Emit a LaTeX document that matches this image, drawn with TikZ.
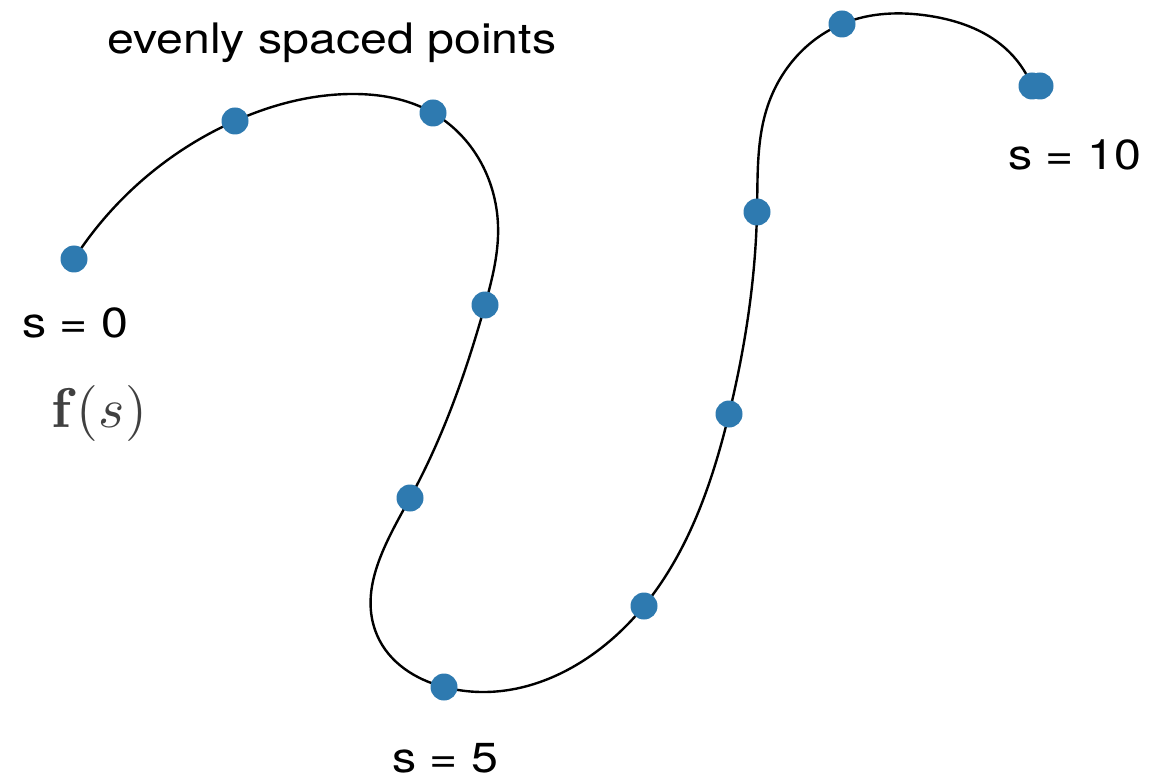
\documentclass[tikz,border=0pt]{standalone}
\usepackage[no-math]{fontspec}
\setmainfont{TeX Gyre Heros}[FakeStretch=1.15]
\usetikzlibrary{hobby}
\definecolor{dotblue}{RGB}{46,122,176}
\begin{document}
\begin{tikzpicture}[x=1pt,y=-1pt,
  dot/.style={circle,fill=dotblue,minimum size=27pt,inner sep=0pt},
  curveline/.style={line width=2.4pt,black},
  lbl/.style={font=\fontsize{42}{48}\selectfont,inner sep=0pt,anchor=base west}]
\useasboundingbox (0,0) rectangle (1150,783);
% dot positions
\coordinate (p0) at (74,259);
\coordinate (p1) at (235,121);
\coordinate (p2) at (433,113);
\coordinate (p3) at (485,305);
\coordinate (p4) at (410,498);
\coordinate (p5) at (444,687);
\coordinate (p6) at (644,606);
\coordinate (p7) at (729,414);
\coordinate (p8) at (757,212);
\coordinate (p9) at (842,24);
\coordinate (p10) at (1040,86);
\coordinate (p10b) at (1032,86);
% curve
\draw[curveline] (p0) to[curve through={(p1) .. (350,94) .. (p2) .. (498,225) .. (p3) .. (p4) .. (377,635) .. (p5) .. (p6) .. (p7) .. (p8) .. (768,105) .. (p9) .. (930,16) .. (1005,48)}] (p10b);
% dots
\node[dot] (d10b) at (p10b) {};
\foreach \i in {0,...,10} { \node[dot] (d\i) at (p\i) {}; }
% labels
\node[lbl] (t0) at (107,54) {evenly spaced points};
\node[lbl] (s0) at (22,337) {s = 0};
\node[lbl] (s5) at (392,772) {s = 5};
\node[lbl] (s10) at (1008,170) {s = 10};
\node[inner sep=0pt,text=black!75,scale=5.6] (fs) at (99,413) {$\mathbf{f}(s)$};
\end{tikzpicture}
\end{document}
